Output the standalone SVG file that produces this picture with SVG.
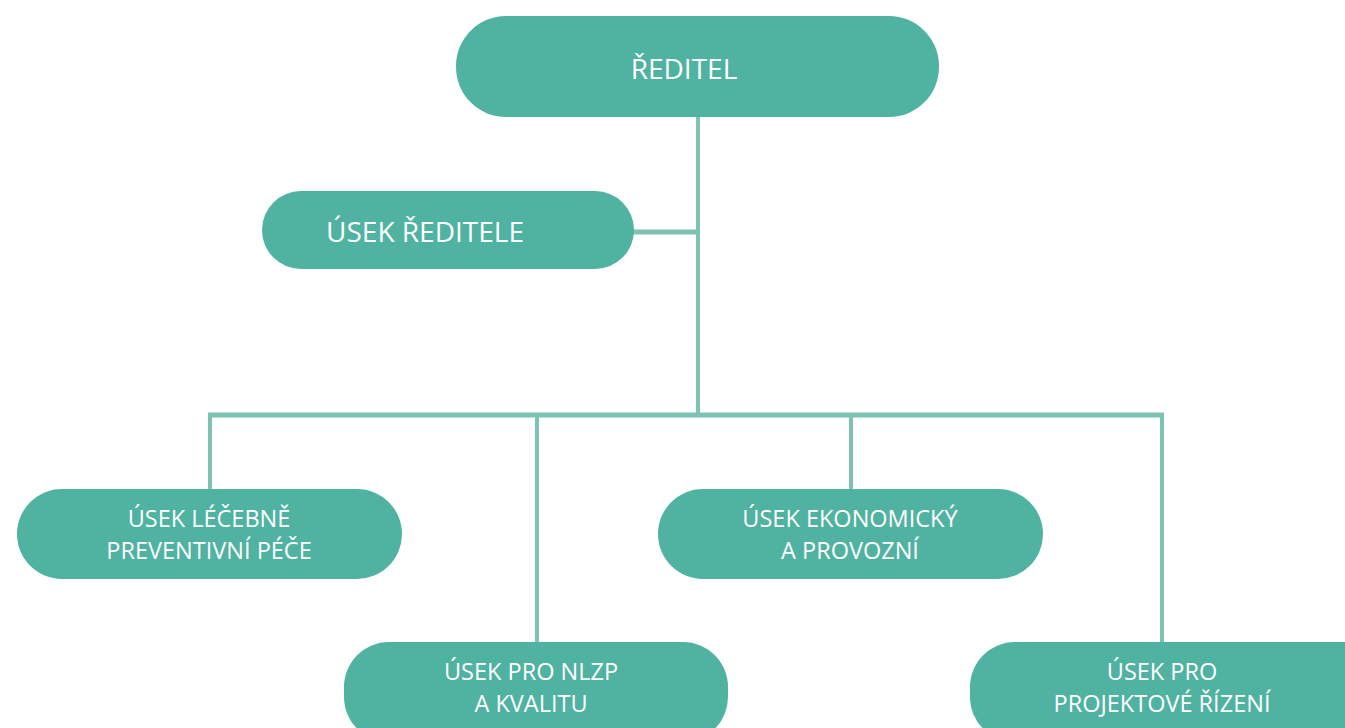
<svg xmlns="http://www.w3.org/2000/svg" width="1345" height="728" viewBox="0 0 1345 728">
<style>
.node{fill:#50b2a0}
.lbl{fill:#ffffff;font-family:"Open Sans","Noto Sans",sans-serif;text-anchor:middle}
.big{font-size:28px}
.sm{font-size:23.5px}
.con{stroke:#7cc3b3;stroke-width:4;fill:none}
</style>
<rect width="1345" height="728" fill="#ffffff"/>
<g id="connectors">
<line class="con" x1="698" y1="117" x2="698" y2="415"/>
<line class="con" x1="633" y1="232" x2="698" y2="232" style="stroke-width:5"/>
<line class="con" x1="208" y1="415" x2="1164" y2="415" style="stroke-width:5"/>
<line class="con" x1="210" y1="415" x2="210" y2="490"/>
<line class="con" x1="537" y1="415" x2="537" y2="643"/>
<line class="con" x1="851" y1="415" x2="851" y2="490"/>
<line class="con" x1="1162" y1="415" x2="1162" y2="643"/>
</g>
<g id="reditel">
<rect class="node" x="456" y="16" width="483" height="101" rx="50"/>
<text class="lbl big" x="684" y="79">ŘEDITEL</text>
</g>
<g id="usek-reditele">
<rect class="node" x="262" y="191" width="372" height="78" rx="39"/>
<text class="lbl big" x="425" y="242">ÚSEK ŘEDITELE</text>
</g>
<g id="usek-lecebne">
<rect class="node" x="17" y="489" width="385" height="90" rx="45"/>
<text class="lbl sm" x="209" y="527">ÚSEK LÉČEBNĚ</text>
<text class="lbl sm" x="209" y="559">PREVENTIVNÍ PÉČE</text>
</g>
<g id="usek-ekonomicky">
<rect class="node" x="658" y="489" width="385" height="90" rx="45"/>
<text class="lbl sm" x="850" y="527">ÚSEK EKONOMICKÝ</text>
<text class="lbl sm" x="850" y="559">A PROVOZNÍ</text>
</g>
<g id="usek-nlzp">
<rect class="node" x="344" y="642" width="384" height="100" rx="45"/>
<text class="lbl sm" x="531" y="680">ÚSEK PRO NLZP</text>
<text class="lbl sm" x="531" y="712">A KVALITU</text>
</g>
<g id="usek-projekt">
<rect class="node" x="970" y="642" width="420" height="100" rx="45"/>
<text class="lbl sm" x="1162" y="680">ÚSEK PRO</text>
<text class="lbl sm" x="1162" y="712">PROJEKTOVÉ ŘÍZENÍ</text>
</g>
</svg>
